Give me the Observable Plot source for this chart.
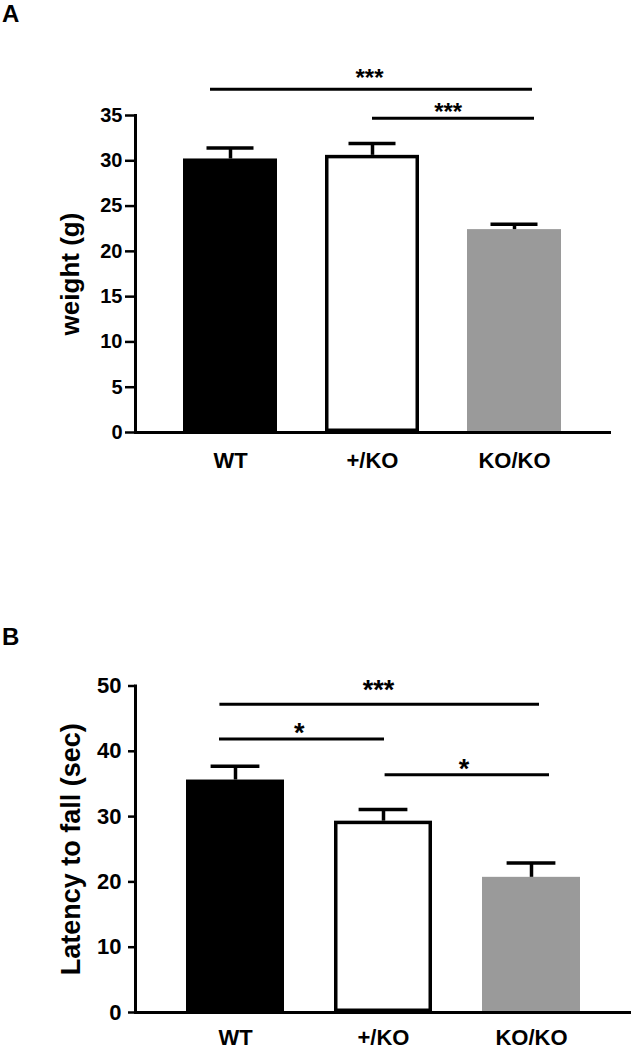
<!DOCTYPE html>
<html><head><meta charset="utf-8">
<script src="https://cdn.jsdelivr.net/npm/d3@7"></script>
<script src="https://cdn.jsdelivr.net/npm/@observablehq/plot@0.6"></script>
<style>
body{margin:0;background:#fff;font-family:"Liberation Sans",Arial,sans-serif;color:#000;}
#root{position:relative;width:631px;height:1050px;overflow:hidden;background:#fff;}
.panel{position:absolute;left:0;}
.tag{position:absolute;left:2px;font-size:24px;font-weight:bold;line-height:1;}
</style></head><body><div id="root"></div>
<script>
// ---- data ----
const groups = ["WT", "+/KO", "KO/KO"];

// Panel A: body weight
const weightMean = [30.2, 30.6, 22.4];
const weightSem = [1.2, 1.3, 0.6];
const weightTicks = [0, 5, 10, 15, 20, 25, 30, 35];
const weightBracketFrom = ["WT", "+/KO"];
const weightBracketTo = ["KO/KO", "KO/KO"];
const weightBracketY = [37.9, 34.7];
const weightBracketLabel = ["***", "***"];

// Panel B: latency to fall
const latencyMean = [35.6, 29.3, 20.7];
const latencySem = [2.1, 1.8, 2.2];
const latencyTicks = [0, 10, 20, 30, 40, 50];
const latencyBracketFrom = ["WT", "WT", "+/KO"];
const latencyBracketTo = ["KO/KO", "+/KO", "KO/KO"];
const latencyBracketY = [47.2, 41.9, 36.4];
const latencyBracketLabel = ["***", "*", "*"];

// ---- styles ----
const barFill = {"WT": "#000", "+/KO": "#fff", "KO/KO": "#9a9a9a"};
const FONT = '"Liberation Sans", Arial, sans-serif';

function panel(o) {
  const data = groups.map((g, i) => ({group: g, mean: o.mean[i], sem: o.sem[i]}));
  const brackets = o.from.map((f, i) => ({from: f, to: o.to[i], y: o.by[i], label: o.labels[i]}));
  const marks = [
    Plot.barY(data, {x: "group", y: "mean", fill: d => barFill[d.group]}),
    Plot.barY(data.filter(d => d.group === "+/KO"), {x: "group", y: "mean", fill: "none", stroke: "#000", strokeWidth: 3.5, inset: 1.75}),
    Plot.ruleX(data, {x: "group", y1: "mean", y2: d => d.mean + d.sem, stroke: "#000", strokeWidth: 3.5}),
    Plot.tickY(data, {x: "group", y: d => d.mean + d.sem, stroke: "#000", strokeWidth: 3.5, inset: o.capInset}),
    Plot.axisY({ticks: o.ticks, tickSize: o.tickSize, tickPadding: o.tickPadding, fontSize: o.tickFont, fontWeight: "bold", strokeWidth: 2.5, label: null}),
    Plot.axisX({tickSize: 0, tickPadding: o.xPad, fontSize: o.xFont, fontWeight: "bold", label: null}),
    Plot.frame({anchor: "left", strokeWidth: 3}),
    Plot.frame({anchor: "bottom", strokeWidth: 3}),
    Plot.text([o.ylabel], {text: d => d, frameAnchor: "left", textAnchor: "middle", rotate: -90, dx: -64.5, lineAnchor: "middle", fontSize: o.ylabelFont, fontWeight: "bold"})
  ];
  brackets.forEach((b, i) => {
    marks.push(Plot.ruleY([b], {x1: "from", x2: "to", y: "y", strokeWidth: 3, insetLeft: o.insL[i], insetRight: o.insR[i]}));
    marks.push(Plot.text([b], {x: "from", y: "y", text: "label", dx: o.labDx[i], dy: o.labDy[i], lineAnchor: "bottom", fontSize: o.starFont, fontWeight: "bold"}));
  });
  return Plot.plot({
    width: 631,
    height: o.height,
    marginLeft: 135,
    marginRight: o.marginRight,
    marginTop: o.marginTop,
    marginBottom: o.marginBottom,
    style: {fontFamily: FONT, color: "#000", background: "#fff", overflow: "visible"},
    x: {domain: groups, padding: 0.338},
    y: {domain: [0, o.ticks[o.ticks.length - 1]]},
    marks
  });
}

const root = document.getElementById("root");

const pA = panel({
  mean: weightMean, sem: weightSem, ticks: weightTicks,
  from: weightBracketFrom, to: weightBracketTo, by: weightBracketY, labels: weightBracketLabel,
  height: 480, marginTop: 115, marginBottom: 48, marginRight: 22,
  tickSize: 10, tickPadding: 3, tickFont: 20, xPad: 20, xFont: 22,
  ylabel: "weight (g)", ylabelFont: 26, starFont: 24, capInset: 23.5,
  insL: [27, 47], insR: [29, 27], labDx: [139, 75.7], labDy: [-2.8, 1.7]
});
pA.classList.add("panel"); pA.style.top = "0px";
root.appendChild(pA);

const pB = panel({
  mean: latencyMean, sem: latencySem, ticks: latencyTicks,
  from: latencyBracketFrom, to: latencyBracketTo, by: latencyBracketY, labels: latencyBracketLabel,
  height: 450, marginTop: 85.5, marginBottom: 38, marginRight: 1,
  tickSize: 7, tickPadding: 7, tickFont: 22, xPad: 17, xFont: 22,
  ylabel: "Latency to fall (sec)", ylabelFont: 27, starFont: 27, capInset: 24.6,
  insL: [33.4, 33, 50.6], insR: [41, 48, 31], labDx: [143, 63.8, 80.5], labDy: [-5.6, 3, 3.4]
});
pB.classList.add("panel"); pB.style.top = "600px";
root.appendChild(pB);

const tA = document.createElement("div"); tA.className = "tag"; tA.style.top = "2px"; tA.textContent = "A"; root.appendChild(tA);
const tB = document.createElement("div"); tB.className = "tag"; tB.style.top = "625px"; tB.textContent = "B"; root.appendChild(tB);
</script></body></html>
